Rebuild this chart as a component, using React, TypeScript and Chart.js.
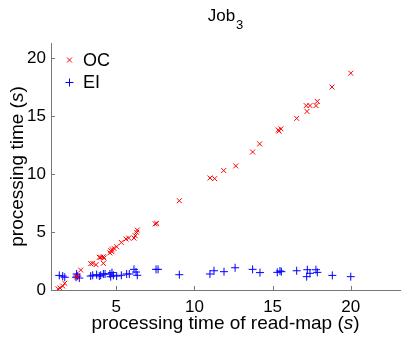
import React, { useEffect, useRef } from "react";
import { Chart, registerables } from "chart.js";

Chart.register(...registerables);

const ocX = [1.27, 1.4, 1.57, 1.7, 2.46, 2.5, 2.72, 3.36, 3.49, 3.7, 3.91, 4.0, 4.17, 4.21, 4.17, 4.59, 4.64, 4.72, 4.72, 4.85, 5.02, 5.32, 5.62, 5.79, 6.13, 6.21, 6.3, 6.34, 7.49, 7.58, 9.03, 10.99, 11.29, 11.87, 12.64, 13.72, 14.17, 15.36, 15.41, 15.53, 16.54, 17.15, 17.2, 17.39, 17.78, 17.86, 18.8, 20.0];
const ocY = [0.1, 0.17, 0.34, 0.58, 1.2, 1.1, 1.72, 2.27, 2.3, 2.18, 2.82, 2.82, 2.87, 2.76, 2.3, 3.2, 3.39, 3.5, 3.3, 3.59, 3.73, 4.1, 4.4, 4.48, 4.48, 4.68, 4.97, 5.17, 5.7, 5.75, 7.7, 9.66, 9.6, 10.3, 10.7, 11.9, 12.6, 13.8, 13.7, 13.9, 14.8, 15.9, 15.4, 15.9, 15.9, 16.26, 17.5, 18.7];

const eiX = [1.35, 1.57, 1.7, 2.46, 2.5, 2.42, 2.63, 3.36, 3.49, 3.74, 3.91, 4.0, 4.17, 4.28, 4.59, 4.72, 4.81, 4.64, 5.02, 5.32, 5.66, 5.83, 6.13, 6.26, 6.34, 7.54, 7.67, 9.03, 10.99, 11.25, 11.89, 12.6, 13.72, 14.19, 15.3, 15.47, 15.56, 16.54, 17.22, 17.39, 17.18, 17.77, 17.86, 18.82, 20.0];
const eiY = [1.26, 1.2, 1.1, 1.38, 1.2, 1.1, 1.03, 1.2, 1.27, 1.32, 1.2, 1.27, 1.38, 1.38, 1.38, 1.5, 1.27, 1.15, 1.2, 1.27, 1.38, 1.38, 1.78, 1.55, 1.27, 1.78, 1.78, 1.32, 1.38, 1.66, 1.58, 1.92, 1.78, 1.5, 1.52, 1.64, 1.58, 1.66, 1.75, 1.44, 1.15, 1.75, 1.52, 1.26, 1.15];

const xTicks = [5, 10, 15, 20];
const yTicks = [0, 5, 10, 15, 20];
const seriesLabels = ["OC", "EI"];
const titleMain = "Job";
const titleSub = "3";
const xTitleParts = ["processing time of read-map (", "s", ")"];
const yTitleParts = ["processing time (", "s", ")"];

const FONT = "'Liberation Sans', Arial, Helvetica, sans-serif";
const AXIS_COLOR = "#777777";

function drawParts(ctx: CanvasRenderingContext2D, parts: string[], size: number, cx: number, cy: number) {
  const fonts = [`${size}px ${FONT}`, `italic ${size}px ${FONT}`, `${size}px ${FONT}`];
  let total = 0;
  const widths = parts.map((p, i) => {
    ctx.font = fonts[i];
    const w = ctx.measureText(p).width;
    total += w;
    return w;
  });
  let x = cx - total / 2;
  ctx.textBaseline = "middle";
  ctx.textAlign = "left";
  parts.forEach((p, i) => {
    ctx.font = fonts[i];
    ctx.fillText(p, x, cy);
    x += widths[i];
  });
}

const decorPlugin = {
  id: "decor",
  afterDraw(chart: any) {
    const ctx: CanvasRenderingContext2D = chart.ctx;
    const area = chart.chartArea;
    const xs = chart.scales.x;
    const ys = chart.scales.y;
    ctx.save();
    // inward ticks
    ctx.strokeStyle = AXIS_COLOR;
    ctx.lineWidth = 1;
    ctx.beginPath();
    xTicks.forEach((v) => {
      const px = Math.round(xs.getPixelForValue(v)) + 0.5;
      ctx.moveTo(px, area.bottom);
      ctx.lineTo(px, area.bottom - 4);
    });
    yTicks.forEach((v) => {
      const py = Math.round(ys.getPixelForValue(v)) + 0.5;
      ctx.moveTo(area.left, py);
      ctx.lineTo(area.left + 4, py);
    });
    ctx.stroke();

    ctx.fillStyle = "#000";
    // title
    ctx.font = `17px ${FONT}`;
    const wMain = ctx.measureText(titleMain).width;
    ctx.font = `13px ${FONT}`;
    const wSub = ctx.measureText(titleSub).width;
    const cx = (area.left + area.right) / 2;
    const tx = cx - (wMain + wSub + 1) / 2;
    ctx.textAlign = "left";
    ctx.textBaseline = "alphabetic";
    ctx.font = `17px ${FONT}`;
    ctx.fillText(titleMain, tx, 21);
    ctx.font = `13px ${FONT}`;
    ctx.fillText(titleSub, tx + wMain + 1, 29);

    // axis titles
    drawParts(ctx, xTitleParts, 19, cx, 324);
    ctx.save();
    ctx.translate(18, (area.top + area.bottom) / 2);
    ctx.rotate(-Math.PI / 2);
    drawParts(ctx, yTitleParts, 19, 0, 0);
    ctx.restore();

    // legend
    const legendY = [60, 82.5];
    chart.data.datasets.forEach((ds: any, i: number) => {
      const y = legendY[i];
      ctx.strokeStyle = ds.borderColor;
      ctx.lineWidth = 1;
      ctx.beginPath();
      const r = ds.pointRadius;
      const mx = 69.5;
      if (ds.pointStyle === "crossRot") {
        const d = r * 0.7071;
        ctx.moveTo(mx - d, y - d);
        ctx.lineTo(mx + d, y + d);
        ctx.moveTo(mx - d, y + d);
        ctx.lineTo(mx + d, y - d);
      } else {
        ctx.moveTo(mx - r, y);
        ctx.lineTo(mx + r, y);
        ctx.moveTo(mx, y - r);
        ctx.lineTo(mx, y + r);
      }
      ctx.stroke();
      ctx.fillStyle = "#000";
      ctx.font = `18px ${FONT}`;
      ctx.textAlign = "left";
      ctx.textBaseline = "middle";
      ctx.fillText(ds.label, 83, y + 1);
    });
    ctx.restore();
  },
};

export default function App() {
  const ref = useRef<HTMLCanvasElement | null>(null);
  useEffect(() => {
    if (!ref.current) return;
    const chart = new Chart(ref.current, {
      type: "scatter",
      data: {
        datasets: [
          {
            label: seriesLabels[0],
            data: ocX.map((x, i) => ({ x, y: ocY[i] })),
            pointStyle: "crossRot",
            pointRadius: 3.5,
            borderColor: "rgb(255,0,0)",
            backgroundColor: "rgb(255,0,0)",
            borderWidth: 1,
          },
          {
            label: seriesLabels[1],
            data: eiX.map((x, i) => ({ x, y: eiY[i] })),
            pointStyle: "cross",
            pointRadius: 4,
            borderColor: "rgb(0,0,255)",
            backgroundColor: "rgb(0,0,255)",
            borderWidth: 1,
          },
        ],
      },
      options: {
        animation: false,
        responsive: false,
        devicePixelRatio: 1,
        layout: { padding: { left: 0, top: 43, right: 7, bottom: 0 } },
        plugins: { legend: { display: false }, title: { display: false }, tooltip: { enabled: false } },
        scales: {
          x: {
            type: "linear",
            min: 0.82,
            max: 23.15,
            afterBuildTicks: (s: any) => {
              s.ticks = xTicks.map((v) => ({ value: v }));
            },
            afterFit: (s: any) => {
              s.height = 52;
            },
            grid: { display: false, drawTicks: false },
            border: { display: true, color: AXIS_COLOR, width: 1 },
            ticks: { color: "#000", font: { family: FONT, size: 17 }, padding: 7, maxRotation: 0 },
          },
          y: {
            type: "linear",
            min: 0,
            max: 21.3,
            afterBuildTicks: (s: any) => {
              s.ticks = yTicks.map((v) => ({ value: v }));
            },
            afterFit: (s: any) => {
              s.width = 51;
            },
            grid: { display: false, drawTicks: false },
            border: { display: true, color: AXIS_COLOR, width: 1 },
            ticks: { color: "#000", font: { family: FONT, size: 17 }, padding: 5 },
          },
        },
      },
      plugins: [decorPlugin],
    });
    return () => chart.destroy();
  }, []);
  return (
    <div style={{ position: "absolute", left: 0, top: 0, width: 407, height: 342, background: "#fff" }}>
      <canvas ref={ref} width={407} height={342} style={{ display: "block", width: 407, height: 342 }} />
    </div>
  );
}
